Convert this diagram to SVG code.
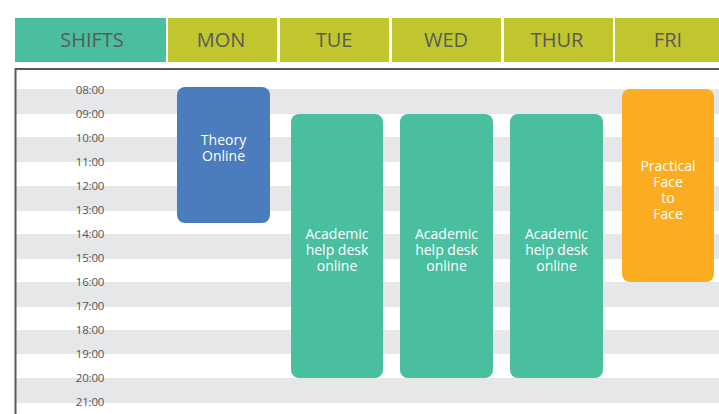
<svg xmlns="http://www.w3.org/2000/svg" width="719" height="414" viewBox="0 0 719 414">
<style>
.hdr{font-family:"Open Sans","Noto Sans","Liberation Sans",sans-serif;font-size:20px;fill:#5a5a5a;text-anchor:middle}
.tm{font-family:"Open Sans","Noto Sans","Liberation Sans",sans-serif;font-size:11.5px;fill:#555;text-anchor:middle;letter-spacing:-0.2px}
.bt{font-family:"Open Sans","Noto Sans","Liberation Sans",sans-serif;font-size:14px;fill:#fff;text-anchor:middle}
.stripe{fill:#e6e7e8}
.teal{fill:#49bf9f}
.olive{fill:#c2c62e}
</style>
<rect width="719" height="414" fill="#fff"/>
<g id="stripes">
<rect class="stripe" x="16" y="89" width="703" height="25"/>
<rect class="stripe" x="16" y="137" width="703" height="25"/>
<rect class="stripe" x="16" y="186" width="703" height="25"/>
<rect class="stripe" x="16" y="234" width="703" height="25"/>
<rect class="stripe" x="16" y="282" width="703" height="25"/>
<rect class="stripe" x="16" y="330" width="703" height="24"/>
<rect class="stripe" x="16" y="378" width="703" height="25"/>
</g>
<g id="frame" stroke="#595959" stroke-width="2" fill="none">
<path d="M15.5 414 V69 H719"/>
</g>
<g id="header">
<rect class="teal" x="15" y="18" width="151" height="44"/>
<text class="hdr" x="92" y="47">SHIFTS</text>
<rect class="olive" x="168" y="18" width="109" height="44"/>
<text class="hdr" x="221" y="47">MON</text>
<rect class="olive" x="280" y="18" width="109" height="44"/>
<text class="hdr" x="334" y="47">TUE</text>
<rect class="olive" x="392" y="18" width="109" height="44"/>
<text class="hdr" x="446" y="47">WED</text>
<rect class="olive" x="504" y="18" width="109" height="44"/>
<text class="hdr" x="557" y="47">THUR</text>
<rect class="olive" x="615" y="18" width="104" height="44"/>
<text class="hdr" x="668" y="47">FRI</text>
</g>
<g id="times">
<text class="tm" x="90" y="94">08:00</text>
<text class="tm" x="90" y="118">09:00</text>
<text class="tm" x="90" y="142">10:00</text>
<text class="tm" x="90" y="166">11:00</text>
<text class="tm" x="90" y="190">12:00</text>
<text class="tm" x="90" y="214">13:00</text>
<text class="tm" x="90" y="238">14:00</text>
<text class="tm" x="90" y="262">15:00</text>
<text class="tm" x="90" y="286">16:00</text>
<text class="tm" x="90" y="310">17:00</text>
<text class="tm" x="90" y="334">18:00</text>
<text class="tm" x="90" y="358">19:00</text>
<text class="tm" x="90" y="382">20:00</text>
<text class="tm" x="90" y="406">21:00</text>
</g>
<g id="mon-theory">
<rect x="177" y="87" width="93" height="136" rx="8" fill="#4a7cbe"/>
<text class="bt" x="223.5" y="145">Theory</text>
<text class="bt" x="223.5" y="161">Online</text>
</g>
<g id="tue-helpdesk">
<rect class="teal" x="291" y="114" width="92" height="264" rx="8"/>
<text class="bt" x="337" y="239">Academic</text>
<text class="bt" x="337" y="255">help desk</text>
<text class="bt" x="337" y="271">online</text>
</g>
<g id="wed-helpdesk">
<rect class="teal" x="400" y="114" width="93" height="264" rx="8"/>
<text class="bt" x="446.5" y="239">Academic</text>
<text class="bt" x="446.5" y="255">help desk</text>
<text class="bt" x="446.5" y="271">online</text>
</g>
<g id="thur-helpdesk">
<rect class="teal" x="510" y="114" width="93" height="264" rx="8"/>
<text class="bt" x="556.5" y="239">Academic</text>
<text class="bt" x="556.5" y="255">help desk</text>
<text class="bt" x="556.5" y="271">online</text>
</g>
<g id="fri-practical">
<rect x="622" y="89" width="92" height="193" rx="8" fill="#fbac20"/>
<text class="bt" x="668" y="171">Practical</text>
<text class="bt" x="668" y="187">Face</text>
<text class="bt" x="668" y="203">to</text>
<text class="bt" x="668" y="219">Face</text>
</g>
<g id="connectors"/>
</svg>
